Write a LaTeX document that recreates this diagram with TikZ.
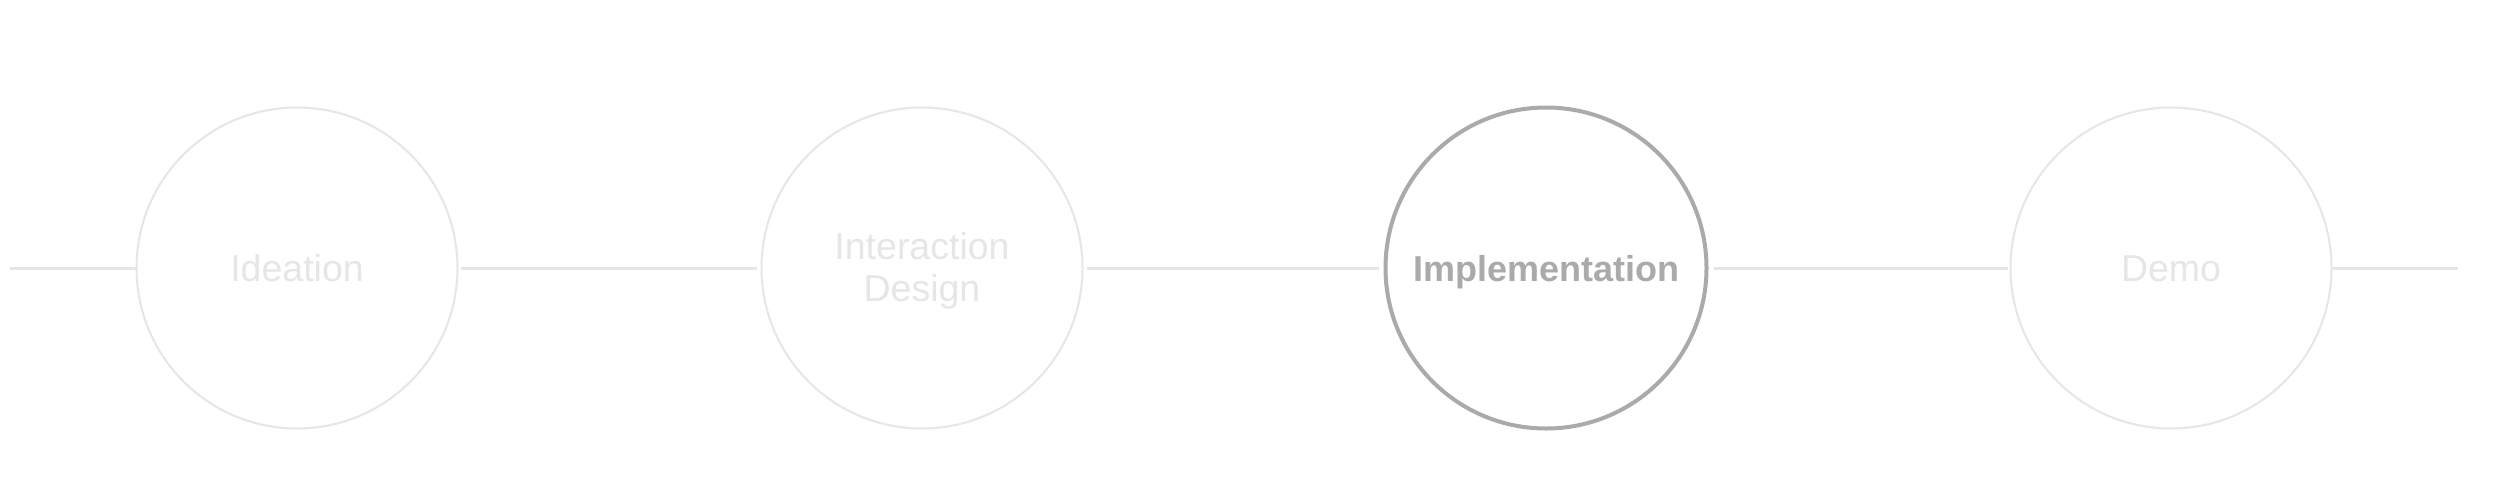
\documentclass[tikz,border=0pt]{standalone}
\usepackage{fontspec}
\setmainfont{Liberation Sans}
\definecolor{faint}{HTML}{E6E6E6}
\definecolor{active}{HTML}{AAAAAA}
\begin{document}
\begin{tikzpicture}[x=1pt,y=-1pt,
  stage/.style={circle, draw=faint, line width=2pt, minimum size=321pt, inner sep=0pt},
  current/.style={stage, draw=active, line width=4pt},
  label/.style={text=faint, font=\fontsize{37.5}{42}\selectfont, anchor=base, align=center, inner sep=0pt},
  curlabel/.style={label, text=active, font=\fontsize{36}{42}\selectfont\bfseries},
  conn/.style={draw=faint, line width=3pt}]
\useasboundingbox[fill=white] (0,0) rectangle (2500,499);
\node[stage] (c1) at (297,268) {};
\node[stage] (c2) at (922,268) {};
\node[current] (c3) at (1546,268) {};
\node[stage] (c4) at (2171,268) {};
\node[label] (t1) at (297,281.5) {Ideation};
\node[label] (t2) at (922,301.7) {Interaction\\Design};
\node[curlabel] (t3) at (1546,281.5) {Implementation};
\node[label] (t4) at (2171,281.5) {Demo};
\coordinate (L) at (10,268);
\coordinate (R) at (2458,268);
\draw[conn] (L) -- (c1.west);
\draw[conn, shorten <=2pt, shorten >=4pt] (c1.east) -- (c2.west);
\draw[conn, shorten <=3pt, shorten >=5pt] (c2.east) -- (c3.west);
\draw[conn, shorten <=5pt, shorten >=2pt] (c3.east) -- (c4.west);
\draw[conn] (c4.east) -- (R);
\end{tikzpicture}
\end{document}
